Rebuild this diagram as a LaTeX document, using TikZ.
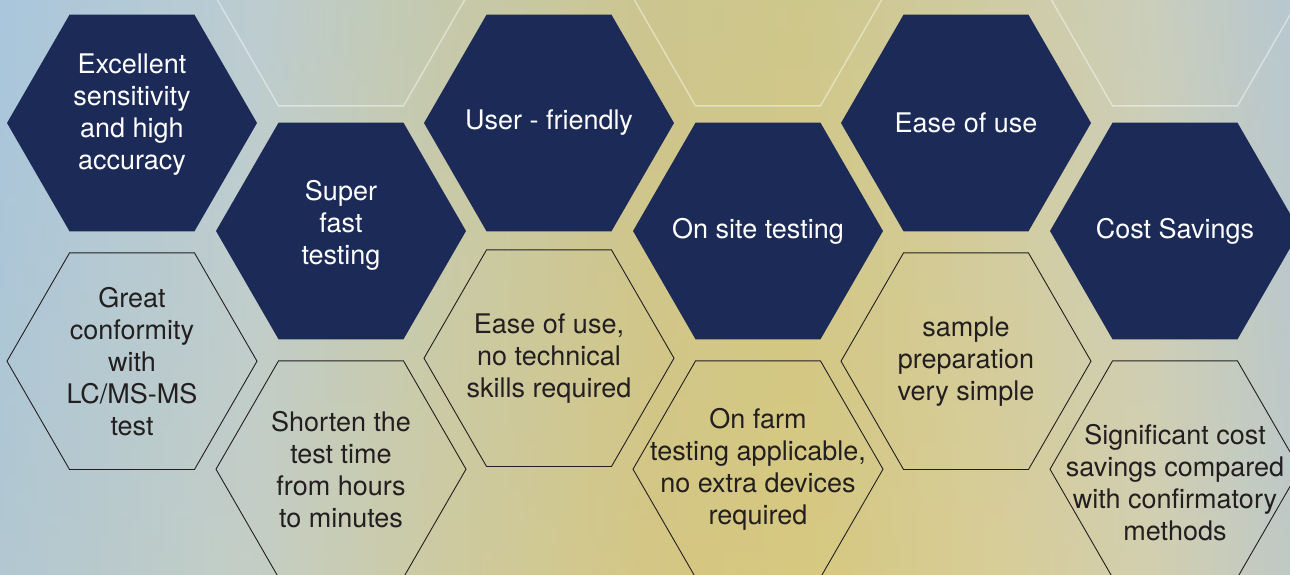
\documentclass[tikz,border=0pt]{standalone}
\usepackage{fontspec}
\setmainfont{TeX Gyre Heros}
\usetikzlibrary{shapes.geometric, positioning}
\definecolor{navy}{RGB}{28,42,88}
\definecolor{ink}{RGB}{35,31,32}
\definecolor{bgA}{RGB}{168,198,221}
\definecolor{bgB}{RGB}{192,206,206}
\definecolor{bgC}{RGB}{204,202,158}
\definecolor{bgD}{RGB}{213,197,122}
\definecolor{bgE}{RGB}{216,199,116}
\definecolor{bgF}{RGB}{217,205,148}
\definecolor{bgG}{RGB}{210,208,178}
\definecolor{bgH}{RGB}{186,200,205}
\definecolor{topsky}{RGB}{175,200,220}
\definecolor{sand}{RGB}{212,205,168}
\pgfdeclarehorizontalshading{backdrop}{100bp}{color(0bp)=(bgA); color(25bp)=(bgA); color(34.7bp)=(bgB); color(42.4bp)=(bgC); color(50.2bp)=(bgD); color(56bp)=(bgE); color(63.8bp)=(bgF); color(69.6bp)=(bgG); color(75bp)=(bgH); color(100bp)=(bgH)}
\newcommand{\hexfont}{\fontsize{27}{32}\selectfont}
\tikzstyle{hexa} = [regular polygon, regular polygon sides=6, minimum size=250pt, inner sep=0pt]
\tikzstyle{darkhex} = [hexa, fill=navy]
\tikzstyle{openhex} = [hexa, draw=ink, line width=0.9pt]
\tikzstyle{ghosthex} = [hexa, draw=white, draw opacity=0.45, line width=1.4pt]
\tikzstyle{darktext} = [text=white, align=center, font=\hexfont]
\tikzstyle{opentext} = [text=ink, align=center, font=\hexfont]

\begin{document}
\begin{tikzpicture}[x=1pt,y=-1pt]
  \useasboundingbox (0,0) rectangle (1290,575);
  \clip (0,0) rectangle (1290,575);
  \shade[shading=backdrop] (0,0) rectangle (1290,575);
  \shade[top color=topsky, bottom color=sand, opacity=0.22] (0,0) rectangle (1290,575);

  \node[darkhex] (d1) at (132,123) {};
  \node[darkhex] (d2) at (341,231) {};
  \node[darkhex] (d3) at (549,123) {};
  \node[darkhex] (d4) at (758,231) {};
  \node[darkhex] (d5) at (966,123) {};
  \node[darkhex] (d6) at (1175,231) {};

  \node[openhex, below=21pt of d1] (o1) {};
  \node[openhex, below=21pt of d2] (o2) {};
  \node[openhex, below=18pt of d3] (o3) {};
  \node[openhex, below=21pt of d4] (o4) {};
  \node[openhex, below=21pt of d5] (o5) {};
  \node[openhex, below=21pt of d6] (o6) {};

  \node[ghosthex, above=16pt of d2] (g2) {};
  \node[ghosthex, above=16pt of d4] (g4) {};
  \node[ghosthex, above=16pt of d6] (g6) {};

  \node[darktext, yshift=8pt] (t1) at (d1) {Excellent\\sensitivity\\and high\\accuracy};
  \node[darktext, yshift=6pt] (t2) at (d2) {Super\\fast\\testing};
  \node[darktext] (t3) at (d3) {User - friendly};
  \node[darktext] (t4) at (d4) {On site testing};
  \node[darktext] (t5) at (d5) {Ease of use};
  \node[darktext] (t6) at (d6) {Cost Savings};

  \node[opentext] (u1) at (o1) {Great\\conformity\\with\\LC/MS-MS\\test};
  \node[opentext] (u2) at (o2) {Shorten the\\test time\\from hours\\to minutes};
  \node[opentext] (u3) at (o3) {Ease of use,\\no technical\\skills required};
  \node[opentext] (u4) at (o4) {On farm\\testing applicable,\\no extra devices\\required};
  \node[opentext] (u5) at (o5) {sample\\preparation\\very simple};
  \node[opentext, yshift=-13pt] (u6) at (o6) {Significant cost\\savings compared\\with confirmatory\\methods};
\end{tikzpicture}
\end{document}
